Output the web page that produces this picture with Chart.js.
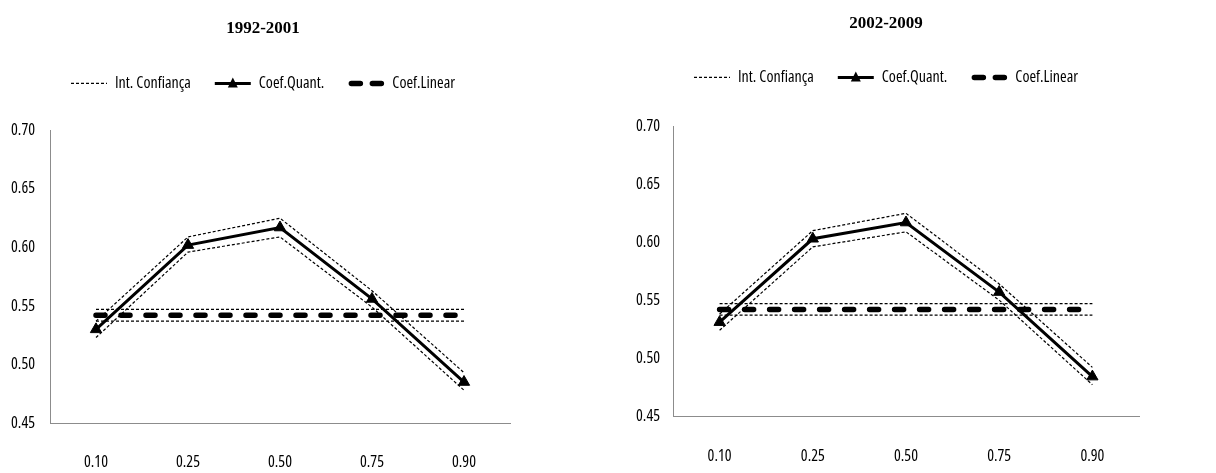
<!DOCTYPE html>
<html>
<head>
<meta charset="utf-8">
<title>Coeficientes quantílicos 1992-2001 / 2002-2009</title>
<script src="https://cdn.jsdelivr.net/npm/chart.js@4.4.0/dist/chart.umd.min.js"></script>
<style>
  body { margin: 0; background: #fff; }
  #left { position: absolute; left: 0; top: 0; }
  #right { position: absolute; left: 608px; top: 0; }
</style>
</head>
<body>
<canvas id="left" width="530" height="473"></canvas>
<canvas id="right" width="556" height="473"></canvas>
<script>
const quantiles = ['0.10', '0.25', '0.50', '0.75', '0.90'];
const legendNames = ['Int. Confiança', 'Coef.Quant.', 'Coef.Linear'];

// 1992-2001
const quant1 = [0.530, 0.602, 0.617, 0.556, 0.485];
const quantUp1 = [0.537, 0.609, 0.625, 0.563, 0.493];
const quantLow1 = [0.523, 0.596, 0.609, 0.549, 0.478];
const linear1 = [0.542, 0.542, 0.542, 0.542, 0.542];
const linearUp1 = [0.547, 0.547, 0.547, 0.547, 0.547];
const linearLow1 = [0.537, 0.537, 0.537, 0.537, 0.537];

// 2002-2009
const quant2 = [0.531, 0.603, 0.617, 0.557, 0.484];
const quantUp2 = [0.538, 0.610, 0.625, 0.564, 0.492];
const quantLow2 = [0.524, 0.596, 0.609, 0.550, 0.477];
const linear2 = [0.542, 0.542, 0.542, 0.542, 0.542];
const linearUp2 = [0.547, 0.547, 0.547, 0.547, 0.547];
const linearLow2 = [0.537, 0.537, 0.537, 0.537, 0.537];

// narrow sans like the excel original; 'condensed' goes into the font shorthand
const narrow = "'Open Sans', 'DejaVu Sans Condensed', sans-serif";
const narrowFont = size => ({ family: narrow, size: size, weight: 'condensed' });
const serif = "'Liberation Serif', 'DejaVu Serif', serif";
const boxW = 36;

// makes room between the legend and the plot, like the excel original
const legendGap = {
    id: 'legendGap',
    beforeUpdate(chart, args, opts) {
        if (chart.legend && !chart.legend._gapPatched) {
            const fit = chart.legend.fit;
            chart.legend.fit = function () {
                fit.call(this);
                this.height += opts.extra;
            };
            chart.legend._gapPatched = true;
        }
    }
};

// draws the line samples in the legend (dotted, line+triangle, thick dashes)
const legendSamples = {
    id: 'legendSamples',
    afterDraw(chart) {
        const ctx = chart.ctx;
        const boxes = chart.legend.legendHitBoxes;
        boxes.forEach((b, i) => {
            const x0 = b.left, x1 = b.left + boxW, y = b.top + b.height / 2;
            ctx.save();
            ctx.strokeStyle = '#000';
            ctx.fillStyle = '#000';
            ctx.beginPath();
            if (i === 0) {
                ctx.lineWidth = 1.2;
                ctx.setLineDash([3, 2]);
                ctx.moveTo(x0, y); ctx.lineTo(x1, y);
                ctx.stroke();
            } else if (i === 1) {
                ctx.lineWidth = 3;
                ctx.moveTo(x0, y); ctx.lineTo(x1, y);
                ctx.stroke();
                const cx = (x0 + x1) / 2;
                ctx.beginPath();
                ctx.moveTo(cx, y - 6);
                ctx.lineTo(cx + 5, y + 4);
                ctx.lineTo(cx - 5, y + 4);
                ctx.closePath();
                ctx.fill();
            } else {
                ctx.lineWidth = 5.5;
                ctx.lineCap = 'round';
                ctx.moveTo(x0 + 3, y); ctx.lineTo(x0 + 12, y);
                ctx.moveTo(x0 + 24, y); ctx.lineTo(x0 + 33, y);
                ctx.stroke();
            }
            ctx.restore();
        });
    }
};

function ciLine(data) {
    return {
        label: '', data: data, borderColor: '#000', borderWidth: 1.2,
        borderDash: [3, 2], pointRadius: 0, tension: 0
    };
}

function makeChart(id, title, s, lay) {
    new Chart(document.getElementById(id), {
        type: 'line',
        data: {
            labels: quantiles,
            datasets: [
                ciLine(s.up),
                {
                    label: legendNames[1], data: s.quant, borderColor: '#000', borderWidth: 3,
                    pointStyle: 'triangle', pointRadius: 6.5, pointBackgroundColor: '#000',
                    pointBorderColor: '#000', pointBorderWidth: 1, tension: 0
                },
                {
                    label: legendNames[2], data: s.linear, borderColor: '#000', borderWidth: 5.5,
                    borderDash: [9, 16], borderCapStyle: 'round', pointRadius: 0, tension: 0
                },
                ciLine(s.low),
                ciLine(s.linUp),
                ciLine(s.linLow)
            ]
        },
        options: {
            responsive: false,
            animation: false,
            layout: { padding: { left: lay.padLeft, right: lay.padRight, top: 0, bottom: lay.padBottom } },
            plugins: {
                title: {
                    display: true, text: title, color: '#000',
                    font: { family: serif, size: 17, weight: 'bold' },
                    padding: { top: lay.titleTop, bottom: lay.titleBottom }
                },
                legend: {
                    display: true,
                    labels: {
                        boxWidth: boxW, boxHeight: 0, padding: 24, color: '#000',
                        font: narrowFont(16),
                        generateLabels: () => legendNames.map((t, i) => ({
                            text: t, fillStyle: 'transparent', strokeStyle: 'transparent',
                            lineWidth: 0, hidden: false, datasetIndex: i, fontColor: '#000'
                        }))
                    }
                },
                legendGap: { extra: lay.legendExtra },
                tooltip: { enabled: false }
            },
            scales: {
                x: {
                    offset: true,
                    grid: { display: false, drawTicks: false },
                    border: { display: true, color: '#8c8c8c', width: 1 },
                    ticks: { color: '#000', font: narrowFont(16), padding: lay.xPad, maxRotation: 0 },
                    afterFit: sc => { sc.height = lay.xHeight; }
                },
                y: {
                    min: 0.45, max: 0.70,
                    grid: { display: false, drawTicks: false },
                    border: { display: true, color: '#8c8c8c', width: 1 },
                    ticks: {
                        stepSize: 0.05, color: '#000', padding: lay.yPad,
                        font: narrowFont(16),
                        callback: v => v.toFixed(2)
                    },
                    afterFit: sc => {
                        sc.width = lay.yWidth;
                        // labels may reach into the left padding, do not clip them
                        sc._computeLabelArea = () => undefined;
                    }
                }
            }
        },
        plugins: [legendGap, legendSamples]
    });
}

makeChart('left', '1992-2001',
    { quant: quant1, up: quantUp1, low: quantLow1, linear: linear1, linUp: linearUp1, linLow: linearLow1 },
    { padLeft: 16, padRight: 20, padBottom: 0, titleTop: 18, titleBottom: 13, legendExtra: 29,
      yWidth: 34, yPad: 15, xHeight: 50, xPad: 30 });

makeChart('right', '2002-2009',
    { quant: quant2, up: quantUp2, low: quantLow2, linear: linear2, linUp: linearUp2, linLow: linearLow2 },
    { padLeft: 25, padRight: 25, padBottom: 7, titleTop: 13, titleBottom: 12, legendExtra: 31,
      yWidth: 40, yPad: 13, xHeight: 50, xPad: 31 });
</script>
</body>
</html>
